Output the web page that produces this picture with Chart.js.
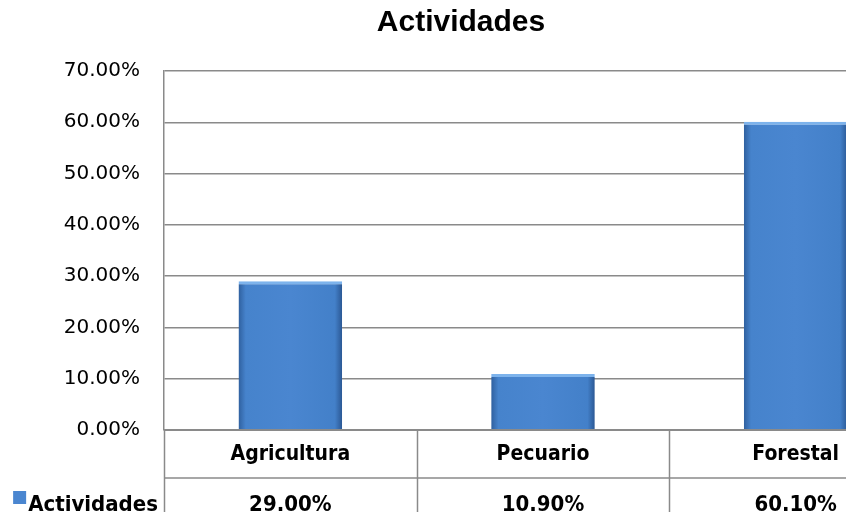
<!DOCTYPE html>
<html>
<head>
<meta charset="utf-8">
<script src="https://cdn.jsdelivr.net/npm/chart.js@4.4.1/dist/chart.umd.min.js"></script>
<style>
  html, body { margin: 0; padding: 0; background: #fff; overflow: hidden; width: 846px; height: 512px; }
  #wrap { width: 922px; height: 512px; }
</style>
</head>
<body>
<div id="wrap"><canvas id="main-chart"></canvas></div>
<script>
const categories = ["Agricultura", "Pecuario", "Forestal"];
const values = [29.0, 10.9, 60.1];
const seriesName = "Actividades";
const yTicks = [0, 10, 20, 30, 40, 50, 60, 70];

const pct = v => v.toFixed(2) + "%";

// bar fill: horizontal shading like the old office bevel
const barFill = ctx => {
  const chart = ctx.chart;
  const xs = chart.scales.x;
  if (!xs || !chart.chartArea) return "#4a86d0";
  const cw = xs.width / categories.length;
  const cx = xs.getPixelForValue(ctx.dataIndex);
  const w = cw * 0.41;
  const g = chart.ctx.createLinearGradient(cx - w / 2, 0, cx + w / 2, 0);
  g.addColorStop(0, "#2f609f");
  g.addColorStop(0.07, "#4683cc");
  g.addColorStop(0.5, "#4a86d0");
  g.addColorStop(0.93, "#4380c9");
  g.addColorStop(1, "#2b5894");
  return g;
};

// data table under the plot
const dataTable = {
  id: "dataTable",
  afterDraw(chart) {
    const c = chart.ctx;
    const xs = chart.scales.x;
    const area = chart.chartArea;
    const top = area.bottom;
    const mid = top + 48;
    const bottom = chart.height;
    const cw = xs.width / categories.length;
    c.save();
    c.strokeStyle = "#8a8a8a";
    c.lineWidth = 2;
    c.beginPath();
    c.moveTo(area.left, top); c.lineTo(area.right, top);
    c.stroke();
    c.lineWidth = 1.5;
    c.beginPath();
    c.moveTo(area.left, mid); c.lineTo(area.right, mid);
    for (let i = 0; i <= categories.length; i++) {
      const x = Math.round(area.left + i * cw) + 0.5;
      c.moveTo(x, top); c.lineTo(x, bottom);
    }
    c.stroke();
    c.fillStyle = "#000";
    c.textAlign = "center";
    c.textBaseline = "alphabetic";
    categories.forEach((cat, i) => {
      const x = xs.getPixelForValue(i);
      c.font = "bold 21px 'DejaVu Sans Condensed'";
      c.fillText(cat, x, top + 30);
      c.font = "bold 22px 'DejaVu Sans Condensed'";
      c.fillText(pct(values[i]), x, bottom - 1);
    });
    // legend key
    c.font = "bold 22px 'DejaVu Sans Condensed'";
    c.textAlign = "right";
    const tx = area.left - 6;
    c.fillText(seriesName, tx, bottom - 1);
    const tw = c.measureText(seriesName).width;
    c.fillStyle = "#4a86d0";
    c.fillRect(tx - tw - 15, 491, 13, 13);
    c.restore();
  }
};

new Chart(document.getElementById("main-chart"), {
  type: "bar",
  data: {
    labels: categories,
    datasets: [{
      label: seriesName,
      data: values,
      backgroundColor: barFill,
      borderColor: "#7db3ec",
      borderWidth: { top: 3, left: 0, right: 0, bottom: 0 },
      borderSkipped: false,
      categoryPercentage: 1,
      barPercentage: 0.41
    }]
  },
  options: {
    responsive: true,
    maintainAspectRatio: false,
    animation: false,
    layout: { padding: { top: 0, right: 0, bottom: 82, left: 0 } },
    plugins: {
      legend: { display: false },
      tooltip: { enabled: false },
      title: {
        display: true,
        text: seriesName,
        color: "#000",
        font: { family: "'Liberation Sans'", size: 30, weight: "bold" },
        padding: { top: 5, bottom: 30 }
      }
    },
    scales: {
      x: { display: false },
      y: {
        min: 0,
        max: 70,
        afterFit: s => { s.width = 164; },
        afterBuildTicks: s => { s.ticks = yTicks.map(v => ({ value: v })); },
        border: { display: true, color: "#8a8a8a", width: 1.5 },
        grid: { color: "#8a8a8a", lineWidth: 1.5, drawTicks: false },
        ticks: {
          padding: 24,
          color: "#000",
          font: { family: "'DejaVu Sans'", size: 20 },
          callback: v => pct(v)
        }
      }
    }
  },
  plugins: [dataTable]
});
</script>
</body>
</html>
